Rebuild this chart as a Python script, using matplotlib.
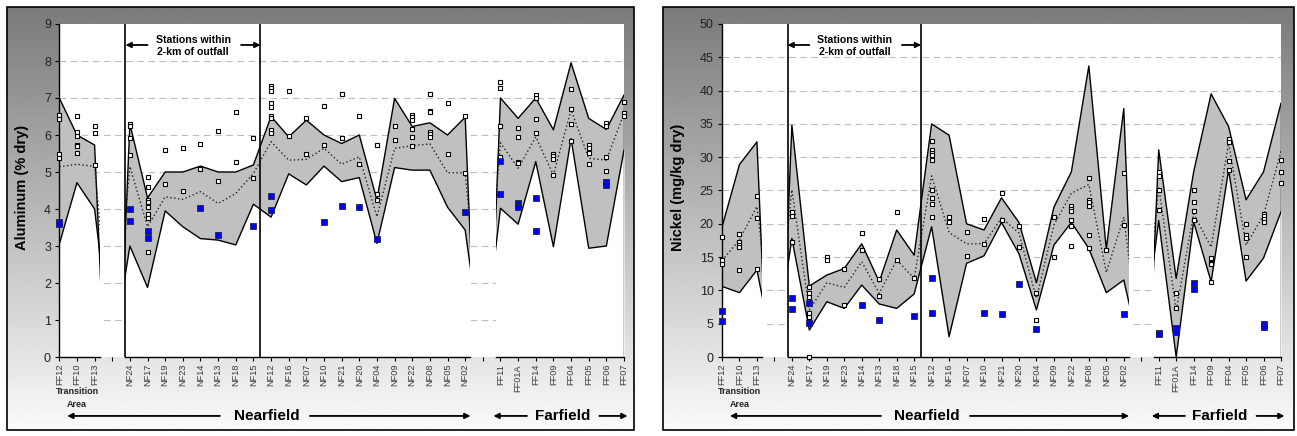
import numpy as np
import matplotlib
matplotlib.use("Agg")
import matplotlib.pyplot as plt
from matplotlib.patches import Rectangle
from matplotlib.transforms import blended_transform_factory

plt.rcParams["font.family"] = ["Liberation Sans", "DejaVu Sans"]

W, H = 1297, 436

# ── data ──────────────────────────────────────────────────────────────────────
stations = ["FF12", "FF10", "FF13", "",
            "NF24", "NF17", "NF19", "NF23", "NF14", "NF13", "NF18", "NF15",
            "NF12", "NF16", "NF07", "NF10", "NF21", "NF20", "NF04", "NF09",
            "NF22", "NF08", "NF05", "NF02", "",
            "FF11", "FF01A", "FF14", "FF09", "FF04", "FF05", "FF06", "FF07"]

# baseline range (upper / lower) and baseline mean; blank categories hidden
al_upper = [7.0, 6.0, 5.73, -5, 6.3, 4.3, 5.0, 5.0, 5.16, 5.0, 5.0, 5.19,
            6.5, 5.95, 6.4, 6.0, 5.77, 6.0, 4.24, 6.99, 6.23, 6.33, 6.0, 6.48,
            -5, 7.0, 6.45, 7.0, 6.14, 7.95, 6.45, 6.15, 7.08]
al_lower = [3.05, 4.71, 4.0, 0, 3.0, 1.88, 3.95, 3.52, 3.2, 3.16, 3.03, 4.13,
            3.78, 4.95, 4.65, 5.16, 4.74, 4.85, 3.07, 5.12, 5.05, 5.05, 4.05, 3.43,
            0, 4.02, 3.59, 5.28, 2.98, 5.9, 2.94, 3.0, 5.59]
al_mean = [5.14, 5.21, 5.15, 0, 5.15, 3.52, 4.33, 4.26, 4.47, 4.15, 4.42, 4.96,
           5.82, 5.32, 5.34, 5.64, 5.21, 5.41, 3.79, 5.64, 5.71, 5.76, 4.98, 4.98,
           0, 5.79, 5.1, 5.95, 4.92, 6.68, 5.37, 5.32, 6.58]
al_obs = [[6.54, 6.43, 5.48, 5.37], [6.5, 6.09, 5.98, 5.74, 5.71, 5.5], [6.25, 6.06, 5.2], [],
          [6.3, 6.25, 5.93, 5.46], [4.86, 4.59, 4.24, 4.19, 4.06, 3.86, 3.75, 2.85],
          [5.6, 4.68], [5.66, 4.49], [5.77, 5.07], [6.11, 4.77], [6.62, 5.28], [5.91, 4.85],
          [7.33, 7.26, 7.2, 6.86, 6.75, 6.52, 6.45, 6.14, 6.05], [7.2, 5.97], [6.47, 5.48],
          [6.78, 5.73], [7.12, 5.91], [6.52, 5.21], [5.73, 4.4, 4.25], [6.23, 5.86],
          [6.54, 6.48, 6.41, 6.16, 5.94, 5.71], [7.1, 6.65, 6.61, 6.09, 6.02, 5.94],
          [6.87, 5.49], [6.51, 4.96], [],
          [7.44, 7.26, 6.23, 5.4], [6.18, 5.95, 5.28, 5.23], [7.08, 7.01, 6.42, 6.06],
          [5.49, 5.43, 5.35, 4.92], [7.23, 6.69, 6.3, 5.84], [5.72, 5.64, 5.52, 5.21],
          [6.32, 6.24, 5.41, 5.04], [6.9, 6.6, 6.5]]
al_recent = [[3.66, 3.6], [], [], [], [4.0, 3.68], [3.41, 3.21], [], [], [4.02], [3.3], [],
             [3.54], [4.35, 3.97], [], [], [3.64], [4.08], [4.06], [3.18], [], [], [], [],
             [3.93], [], [5.3, 4.41], [4.17, 4.05], [4.31, 3.41], [], [], [], [4.74, 4.65], []]

ni_upper = [19.5, 28.9, 32.3, -29, 34.8, 10.66, 12.3, 13.3, 17.0, 11.3, 19.07, 15.3,
            35.0, 33.3, 20.0, 19.07, 23.9, 20.2, 11.16, 22.5, 27.8, 43.7, 16.2, 37.3,
            -29, 31.1, 11.8, 27.8, 39.5, 34.6, 23.6, 27.8, 38.1]
ni_lower = [10.6, 9.66, 13.06, 0, 17.8, 4.05, 8.3, 7.3, 10.8, 7.96, 7.3, 9.46,
            19.56, 3.05, 14.06, 15.2, 20.2, 15.5, 7.06, 16.8, 20.2, 16.3, 9.66, 11.56,
            0, 20.5, 0.0, 20.3, 11.3, 28.1, 11.4, 14.85, 21.8]
ni_mean = [14.5, 17.6, 22.6, 0, 25.1, 7.06, 11.16, 10.46, 14.3, 9.56, 14.56, 11.8,
           27.2, 18.7, 17.0, 17.0, 20.9, 18.6, 8.8, 19.8, 24.6, 25.9, 12.7, 21.0,
           0, 25.6, 7.0, 21.5, 16.5, 32.1, 16.8, 21.3, 30.9]
ni_obs = [[17.97, 14.56, 13.96], [18.47, 17.2, 16.8, 16.5, 13.06], [24.2, 20.8, 13.16], [],
          [21.7, 21.1, 17.3, 17.2], [10.56, 9.56, 9.06, 6.56, 6.06, 5.3, 0.05],
          [14.97, 14.56], [13.16, 7.8], [18.66, 16.0], [11.66, 9.2], [21.7, 14.56], [11.8],
          [32.4, 31.1, 30.7, 30.3, 29.6, 25.1, 23.8, 23.0, 21.0], [21.0, 20.3], [18.7, 15.2],
          [20.7, 16.9], [24.6, 20.6], [19.7, 16.5], [9.56, 5.56], [21.0, 14.97],
          [22.7, 22.2, 21.9, 20.6, 19.7, 16.6], [26.9, 23.6, 23.2, 22.7, 18.3, 16.3],
          [16.1], [27.6, 19.8], [],
          [27.8, 27.2, 25.1, 22.0], [9.66, 7.36], [25.0, 23.2, 21.9, 20.5],
          [14.9, 14.06, 13.9, 11.3], [32.7, 32.3, 29.5, 28.1], [19.9, 18.3, 17.8, 15.0],
          [21.5, 21.1, 20.7, 20.3], [29.6, 27.8, 26.2]]
ni_recent = [[6.9, 5.45], [], [], [], [8.8, 7.16], [8.06, 5.06], [], [], [7.8], [5.56], [],
             [6.2], [11.9, 6.66], [], [], [6.66], [6.4], [11.0], [4.16], [], [], [], [],
             [6.4], [], [3.56, 3.4], [4.3, 3.7], [11.06, 10.2], [], [], [], [4.96, 4.55], []]

# category ranges that are shown (gaps hidden), outfall-zone boundaries
SEGMENTS = [(0, 2.3), (3.75, 23.3), (24.75, 32)]
OUTFALL = [3.75, 11.4]


def px_rect(x0, y0, x1, y1):
    return [x0 / W, 1 - y1 / H, (x1 - x0) / W, (y1 - y0) / H]


def draw_panel(fig, frame, box, ymax, ystep, upper, lower, mean, obs, recent,
               ylabel, ylabel_x):
    # gradient chart area with border
    bg = fig.add_axes(px_rect(*frame))
    grad = np.linspace(0.48, 0.98, 256).reshape(-1, 1)
    bg.imshow(grad, cmap="gray", vmin=0, vmax=1, aspect="auto",
              extent=[0, 1, 0, 1])
    bg.set_xlim(0, 1)
    bg.set_ylim(0, 1)
    bg.axis("off")
    bg.add_patch(Rectangle((0, 0), 1, 1, fill=False, ec="black", lw=1.2,
                           transform=bg.transAxes, clip_on=False))

    ax = fig.add_axes(px_rect(*box))
    ax.set_facecolor("white")
    x = np.arange(len(stations))
    ax.set_xlim(0, len(stations) - 1)
    ax.set_ylim(0, ymax)

    yt = np.arange(0, ymax + ystep / 2, ystep)
    ax.hlines(yt[1:-1], 0, len(stations) - 1, color="#bdbdbd", lw=0.8,
              linestyles=(0, (6, 4)), zorder=0.5)

    for a, b in SEGMENTS:
        clip = Rectangle((a, -ymax), b - a, 3 * ymax, transform=ax.transData)
        arts = [
            ax.fill_between(x, 0, lower, color="white", lw=0, zorder=1),
            ax.fill_between(x, lower, upper, color="#c0c0c0", lw=0, zorder=1.1),
            ax.plot(x, upper, color="black", lw=1.0, zorder=2)[0],
            ax.plot(x, lower, color="black", lw=1.0, zorder=2)[0],
            ax.plot(x, mean, color="#222222", lw=1.0, ls=(0, (1, 1.8)), zorder=2)[0],
        ]
        for art in arts:
            art.set_clip_path(clip)
        ax.plot([a, b], [0, 0], color="black", lw=1.0, zorder=4, clip_on=False)

    ax.vlines(len(stations) - 1, 0, upper[-1], color="black", lw=1.0, zorder=2)
    ax.vlines(OUTFALL, 0, ymax, color="black", lw=1.2, zorder=4)

    ox = [i for i, v in enumerate(obs) for _ in v]
    oy = [y for v in obs for y in v]
    ax.plot(ox, oy, "s", ms=3.3, mfc="white", mec="black", mew=0.8, ls="none",
            zorder=5, clip_on=False)
    rx = [i for i, v in enumerate(recent) for _ in v]
    ry = [y for v in recent for y in v]
    ax.plot(rx, ry, "s", ms=4.8, mfc="#0000ff", mec="#222244", mew=0.6, ls="none",
            zorder=6, clip_on=False)

    for s in ["top", "right", "bottom"]:
        ax.spines[s].set_visible(False)
    ax.spines["left"].set_linewidth(1.0)

    ax.set_yticks(yt)
    ax.set_yticklabels([f"{v:g}" for v in yt], fontsize=9, color="#222222")
    ax.tick_params(axis="y", length=3, width=0.8, pad=3)
    ax.set_xticks(x)
    ax.set_xticklabels(stations, rotation=90, fontsize=6.6, color="#3a3a3a")
    ax.tick_params(axis="x", length=3, width=0.8, pad=2)

    ax.set_ylabel(ylabel, fontsize=10.5, fontweight="bold")
    ax.yaxis.set_label_coords(ylabel_x, 0.51)

    tr = blended_transform_factory(ax.transData, ax.transAxes)
    arrow = dict(arrowstyle="-|>", color="black", lw=1.3, mutation_scale=8,
                 shrinkA=0, shrinkB=0)

    # outfall zone label
    ax.text(7.58, 0.934, "Stations within\n2-km of outfall", transform=tr,
            ha="center", va="center", fontsize=7.6, fontweight="bold",
            linespacing=1.3, zorder=6)
    ax.annotate("", xy=(OUTFALL[0], 0.937), xytext=(5.0, 0.937), xycoords=tr,
                textcoords=tr, arrowprops=arrow)
    ax.annotate("", xy=(OUTFALL[1], 0.937), xytext=(10.3, 0.937), xycoords=tr,
                textcoords=tr, arrowprops=arrow)

    # region labels below axis
    ax.text(1, -0.105, "Transition", transform=tr, ha="center", va="center",
            fontsize=6.5, fontweight="bold", color="#222222")
    ax.text(1, -0.142, "Area", transform=tr, ha="center", va="center",
            fontsize=6.5, fontweight="bold", color="#222222")
    ax.text(11.75, -0.177, "Nearfield", transform=tr, ha="center", va="center",
            fontsize=11, fontweight="bold")
    ax.text(28.5, -0.177, "Farfield", transform=tr, ha="center", va="center",
            fontsize=11, fontweight="bold")
    for head, tail in [(0.45, 9.1), (23.3, 14.2), (24.6, 26.5), (32.2, 30.6)]:
        ax.annotate("", xy=(head, -0.177), xytext=(tail, -0.177), xycoords=tr,
                    textcoords=tr, arrowprops=arrow, annotation_clip=False)
    return ax


fig = plt.figure(figsize=(W / 100, H / 100), dpi=100)
fig.patch.set_facecolor("white")

draw_panel(fig, (7, 7, 634, 430), (59.3, 24, 624, 357), 9, 1,
           al_upper, al_lower, al_mean, al_obs, al_recent,
           "Aluminum (% dry)", -0.054)
draw_panel(fig, (663, 7, 1294, 430), (722, 24, 1281, 357), 50, 5,
           ni_upper, ni_lower, ni_mean, ni_obs, ni_recent,
           "Nickel (mg/kg dry)", -0.066)

fig.savefig("out.png", dpi=100)
